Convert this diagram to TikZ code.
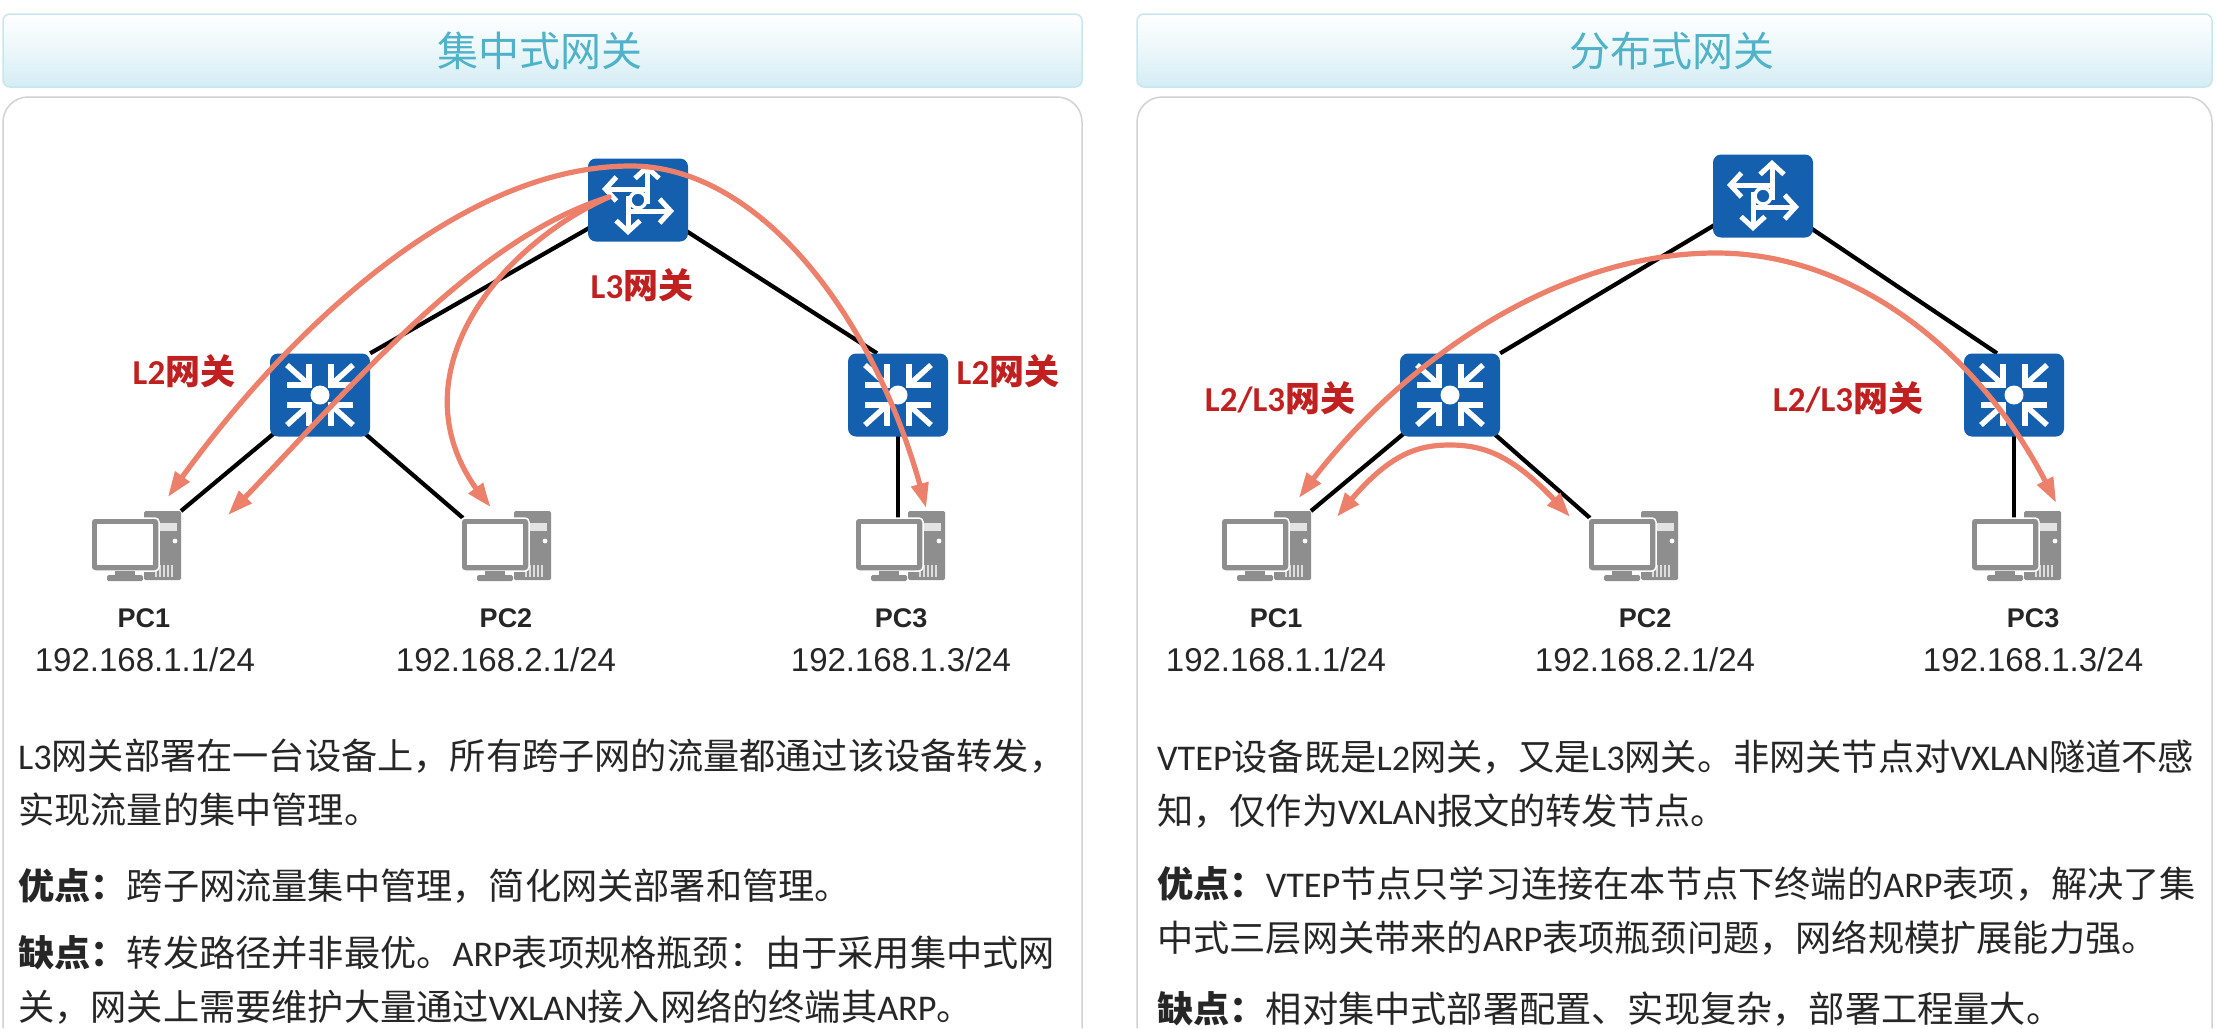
\documentclass[tikz,border=0pt]{standalone}
\usepackage{fontspec}
\setmainfont{Noto Sans CJK SC}
\newfontfamily\lat{Carlito}
\newfontfamily\ipfont{Liberation Sans}
\usetikzlibrary{arrows.meta,bending}
\definecolor{devblue}{HTML}{1560AE}
\definecolor{flow}{HTML}{EC806A}
\definecolor{pcgrey}{HTML}{8E8E8E}
\definecolor{labelred}{HTML}{C0201F}
\definecolor{titleteal}{HTML}{4FB2C8}
\definecolor{headbot}{HTML}{D3EDF4}
\definecolor{headline}{HTML}{C8E6EE}
\definecolor{panelline}{HTML}{D2D2D2}
\definecolor{bodytext}{HTML}{262626}
\pgfdeclarelayer{panels}
\pgfdeclarelayer{links}
\pgfdeclarelayer{flows}
\pgfsetlayers{panels,links,main,flows}
\tikzset{
  x=1pt,y=-1pt,
  header/.style={draw=headline,line width=1.5pt,rounded corners=7pt,top color=white,bottom color=headbot,middle color=white!55!headbot},
  paneledge/.style={draw=panelline,line width=1.5pt,rounded corners=25pt},
  device/.style={fill=devblue,rounded corners=8pt,minimum width=100pt,minimum height=83pt,inner sep=0pt},
  link/.style={draw=black,line width=4.2pt},
  flowline/.style={draw=flow,line width=5.2pt,line cap=round},
  flowarrow/.style={flowline,{Triangle[length=25pt,width=17pt,bend]}-{Triangle[length=25pt,width=17pt,bend]}},
  flowtip/.style={flowline,-{Triangle[length=25pt,width=17pt,bend]}},
  titletext/.style={font=\fontsize{41}{48}\selectfont,text=titleteal,inner sep=0pt},
  gwlabel/.style={font=\fontsize{35}{40}\selectfont\bfseries,text=labelred,inner sep=0pt},
  pcname/.style={font=\fontsize{27}{32}\selectfont\bfseries\ipfont,text=black!85,inner sep=0pt},
  pcip/.style={font=\fontsize{33}{38}\selectfont\ipfont,text=black!85,inner sep=0pt},
  bodypara/.style={font=\fontsize{36.2}{54}\selectfont,text=bodytext,inner sep=0pt,anchor=north west,align=left},
  glyph/.style={draw=white,line width=5pt},
  pics/routerglyph/.style={code={
    \draw[glyph,-{Straight Barb[length=11pt,width=24pt]}] (9,4) -- (9,-36);
    \draw[glyph,-{Straight Barb[length=11pt,width=24pt]}] (10,-11) -- (-36,-11);
    \draw[glyph,-{Straight Barb[length=11pt,width=24pt]}] (-10,11) -- (36,11);
    \draw[glyph,-{Straight Barb[length=11pt,width=24pt]}] (-10,-4) -- (-10,35);
    \draw[draw=white,fill=devblue,line width=3.5pt] (0,0) circle[radius=8];
  }},
  pics/switchglyph/.style={code={
    \foreach \sx/\sy in {-1/-1,1/-1,-1/1,1/1}{
      \draw[glyph,line width=5.5pt,miter limit=4] (\sx*11,\sy*31) -- (\sx*11,\sy*10) -- (\sx*33,\sy*10);
      \draw[glyph,line width=5.5pt] (\sx*12,\sy*11) -- (\sx*33,\sy*30);
    }
    \fill[white] (0,0) circle[radius=9.5];
  }},
  pics/pcicon/.style={code={
    \fill[pcgrey,rounded corners=1.5pt] (53,0) rectangle (90,69);
    \fill[white!75!pcgrey] (69,12) rectangle (86,20);
    \fill[white] (84,30) circle[radius=2.4];
    \foreach \vx in {64,68,72,76,80}{\fill[white!70!pcgrey] (\vx,54) rectangle (\vx+1.6,66);}
    \fill[pcgrey,rounded corners=4pt,draw=white,line width=1.5pt] (0,7) rectangle (68,60);
    \fill[white] (6,13) rectangle (62,54);
    \fill[pcgrey] (24,60) rectangle (44,65);
    \fill[pcgrey,rounded corners=1.5pt] (16,64) rectangle (52,70);
    \coordinate (-tr) at (90,0);
    \coordinate (-ml) at (2,7);
    \coordinate (-mt) at (43,7);
  }},
}
\begin{document}
\begin{tikzpicture}
\begin{pgfonlayer}{panels}
\path[use as bounding box,fill=white] (0,0) rectangle (2218,1028);
\node[header,minimum width=1079pt,minimum height=73pt,inner sep=0pt] (lh) at (542.5,50.5) {};
\node[header,minimum width=1075pt,minimum height=73pt,inner sep=0pt] (rh) at (1674.5,50.5) {};
\draw[paneledge] (3,1028) -- (3,97) -- (1082,97) -- (1082,1028);
\draw[paneledge] (1137,1028) -- (1137,97) -- (2212,97) -- (2212,1028);
\end{pgfonlayer}
\node[titletext] (lt) at (540,51) {集中式网关};
\node[titletext] (rt) at (1672,51) {分布式网关};

% left devices
\node[device] (lr) at (638,200) {};
\node[device] (ls1) at (320,395) {};
\node[device] (ls2) at (898,395) {};
\pic at (lr) {routerglyph};
\pic at (ls1) {switchglyph};
\pic at (ls2) {switchglyph};
\pic (lp1) at (91,511) {pcicon};
\pic (lp2) at (461,511) {pcicon};
\pic (lp3) at (855,511) {pcicon};
\coordinate (ls2top) at ([xshift=-21pt]ls2.north);

% right devices
\node[device] (rr) at (1763,196) {};
\node[device] (rs1) at (1450,395) {};
\node[device] (rs2) at (2014,395) {};
\pic at (rr) {routerglyph};
\pic at (rs1) {switchglyph};
\pic at (rs2) {switchglyph};
\pic (rp1) at (1221,511) {pcicon};
\pic (rp2) at (1588,511) {pcicon};
\pic (rp3) at (1971,511) {pcicon};
\coordinate (rs2top) at ([xshift=-17pt]rs2.north);

\begin{pgfonlayer}{links}
\draw[link] (lr.center) -- (ls1.north east);
\draw[link] (lr.center) -- (ls2top);
\draw[link] (ls1.center) -- (lp1-tr);
\draw[link] (ls1.center) -- (lp2-ml);
\draw[link] (ls2.center) -- (lp3-mt);
\draw[link] (rr.center) -- (rs1.north east);
\draw[link] (rr.center) -- (rs2top);
\draw[link] (rs1.center) -- (rp1-tr);
\draw[link] (rs1.center) -- (rp2-ml);
\draw[link] (rs2.center) -- (rp3-mt);
\end{pgfonlayer}

% flows
\coordinate (lf1) at (168,497);
\coordinate (lf2) at (631,166);
\coordinate (lf3) at (926,508);
\coordinate (lf4) at (228,515);
\coordinate (lf5) at (609,197);
\coordinate (lf6) at (491,507);
\coordinate (rf1) at (1299,498);
\coordinate (rf2) at (1716,253);
\coordinate (rf3) at (2056,503);
\coordinate (rf4) at (1337,517);
\coordinate (rf5) at (1450,445);
\coordinate (rf6) at (1570,517);
\begin{pgfonlayer}{flows}
\draw[flowarrow] (lf1) .. controls (270,350) and (450,166) .. (lf2) .. controls (760,166) and (880,320) .. (lf3);
\draw[flowtip] (lf5) .. controls (470,240) and (345,395) .. (lf4);
\draw[flowtip] (lf5) .. controls (490,250) and (385,390) .. (lf6);
\draw[flowarrow] (rf1) .. controls (1390,370) and (1550,253) .. (rf2) .. controls (1860,253) and (1990,360) .. (rf3);
\draw[flowarrow] (rf4) .. controls (1385,455) and (1415,445) .. (rf5) .. controls (1490,445) and (1520,460) .. (rf6);
\end{pgfonlayer}

% gateway labels
\node[gwlabel] (lg3) at (642,285) {{\lat L3}网关};
\node[gwlabel] (lg2a) at (184,371) {{\lat L2}网关};
\node[gwlabel] (lg2b) at (1008,371) {{\lat L2}网关};
\node[gwlabel] (rg1) at (1280,398) {{\lat L2/L3}网关};
\node[gwlabel] (rg2) at (1848,398) {{\lat L2/L3}网关};

% PC labels
\node[pcname] (ln1) at (144,618) {PC1};
\node[pcname] (ln2) at (506,618) {PC2};
\node[pcname] (ln3) at (901,618) {PC3};
\node[pcip] (li1) at (145,660) {192.168.1.1/24};
\node[pcip] (li2) at (506,660) {192.168.2.1/24};
\node[pcip] (li3) at (901,660) {192.168.1.3/24};
\node[pcname] (rn1) at (1276,618) {PC1};
\node[pcname] (rn2) at (1645,618) {PC2};
\node[pcname] (rn3) at (2033,618) {PC3};
\node[pcip] (ri1) at (1276,660) {192.168.1.1/24};
\node[pcip] (ri2) at (1645,660) {192.168.2.1/24};
\node[pcip] (ri3) at (2033,660) {192.168.1.3/24};

% body text
\node[bodypara] (lb1) at (18,739) {{\lat L3}网关部署在一台设备上，所有跨子网的流量都通过该设备转发，\\实现流量的集中管理。};
\node[bodypara] (lb2) at (18,868) {\textbf{优点：}跨子网流量集中管理，简化网关部署和管理。};
\node[bodypara] (lb3) at (18,935) {\textbf{缺点：}转发路径并非最优。{\lat ARP}表项规格瓶颈：由于采用集中式网\\关，网关上需要维护大量通过{\lat VXLAN}接入网络的终端其{\lat ARP}。};
\node[bodypara] (rb1) at (1157,740) {{\lat VTEP}设备既是{\lat L2}网关，又是{\lat L3}网关。非网关节点对{\lat VXLAN}隧道不感\\知，仅作为{\lat VXLAN}报文的转发节点。};
\node[bodypara] (rb2) at (1157,866) {\textbf{优点：}{\lat VTEP}节点只学习连接在本节点下终端的{\lat ARP}表项，解决了集\\中式三层网关带来的{\lat ARP}表项瓶颈问题，网络规模扩展能力强。};
\node[bodypara] (rb3) at (1157,991) {\textbf{缺点：}相对集中式部署配置、实现复杂，部署工程量大。};
\end{tikzpicture}
\end{document}
